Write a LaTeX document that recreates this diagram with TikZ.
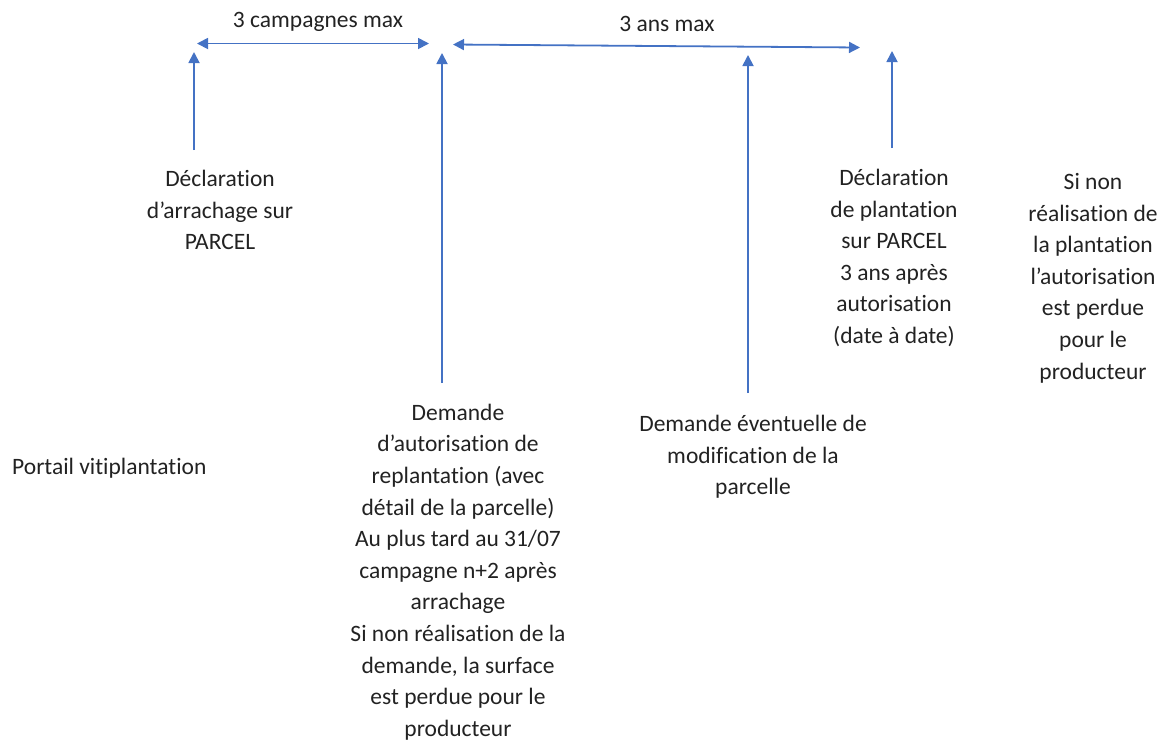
\documentclass[tikz,border=0pt]{standalone}
\usepackage{fontspec}
\setmainfont{Carlito}[RawFeature=-liga]
\usetikzlibrary{arrows.meta}
\definecolor{arrblue}{HTML}{4472C4}
\definecolor{txt}{HTML}{222222}
\tikzset{
  conn/.style={draw=arrblue, line width=1.8pt, -{Triangle[length=11pt,width=11pt]}},
  dconn/.style={draw=arrblue, line width=1.8pt, {Triangle[length=11pt,width=11pt]}-{Triangle[length=11pt,width=11pt]}},
  lbl/.style={align=center, inner sep=0pt, text=txt, font=\fontsize{23.5}{31.6}\selectfont},
}
\begin{document}
\begin{tikzpicture}[x=1pt,y=-1pt]
\useasboundingbox (0,0) rectangle (1161,740);
% horizontal spans
\coordinate (h1a) at (197,43.5);
\coordinate (h1b) at (429,43.5);
\coordinate (h2a) at (453,44.5);
\coordinate (h2b) at (860,47.5);
\draw[dconn] (h1a) -- (h1b);
\draw[dconn] (h2a) -- (h2b);
\node[lbl] (l1) at (318,22) {3 campagnes max};
\node[lbl] (l2) at (667,24) {3 ans max};
% vertical arrows
\coordinate (v1b) at (194,150);
\coordinate (v1t) at (194,52);
\coordinate (v2b) at (442,383);
\coordinate (v2t) at (442,53);
\coordinate (v3b) at (748,393);
\coordinate (v3t) at (748,55);
\coordinate (v4b) at (892,148);
\coordinate (v4t) at (892,51);
\draw[conn] (v1b) -- (v1t);
\draw[conn] (v2b) -- (v2t);
\draw[conn] (v3b) -- (v3t);
\draw[conn] (v4b) -- (v4t);
% texts
\node[lbl] (t1) at (220,210) {Déclaration\\d’arrachage sur\\PARCEL};
\node[lbl] (t2) at (894,258) {Déclaration\\de plantation\\sur PARCEL\\3 ans après\\autorisation\\(date à date)};
\node[lbl] (t3) at (1093,278) {Si non\\réalisation de\\la plantation\\l’autorisation\\est perdue\\pour le\\producteur};
\node[lbl] (t4) at (458,572) {Demande\\d’autorisation de\\replantation (avec\\détail de la parcelle)\\Au plus tard au 31/07\\campagne n+2 après\\arrachage\\Si non réalisation de la\\demande, la surface\\est perdue pour le\\producteur};
\node[lbl] (t5) at (753,457) {Demande éventuelle de\\modification de la\\parcelle};
\node[lbl, anchor=west] (t6) at (12,468) {Portail vitiplantation};
\end{tikzpicture}
\end{document}
